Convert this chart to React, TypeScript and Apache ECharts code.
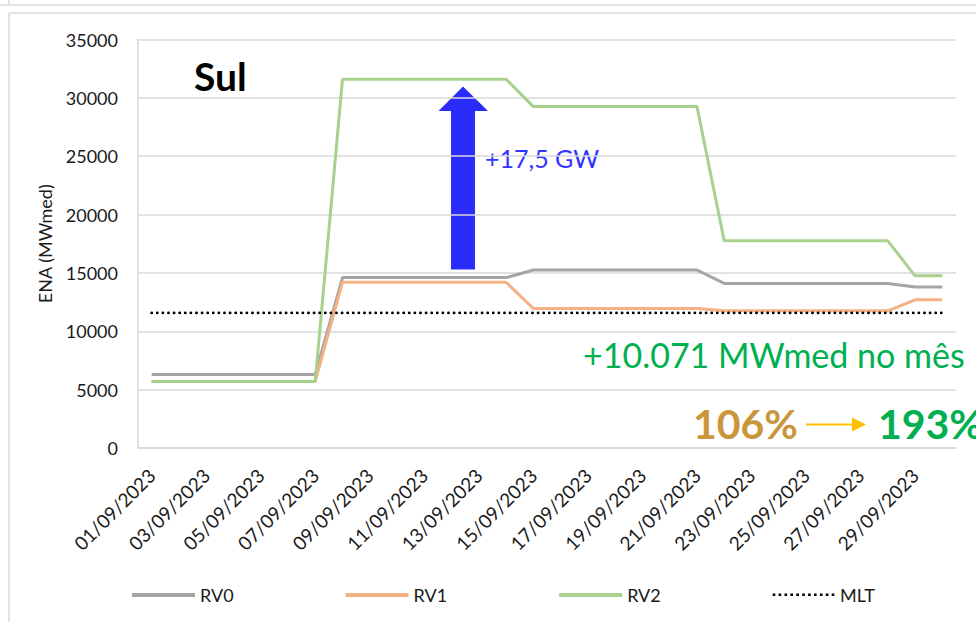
import React, { useEffect, useRef } from "react";
import * as echarts from "echarts";

const categories = [
  "01/09/2023", "02/09/2023", "03/09/2023", "04/09/2023", "05/09/2023",
  "06/09/2023", "07/09/2023", "08/09/2023", "09/09/2023", "10/09/2023",
  "11/09/2023", "12/09/2023", "13/09/2023", "14/09/2023", "15/09/2023",
  "16/09/2023", "17/09/2023", "18/09/2023", "19/09/2023", "20/09/2023",
  "21/09/2023", "22/09/2023", "23/09/2023", "24/09/2023", "25/09/2023",
  "26/09/2023", "27/09/2023", "28/09/2023", "29/09/2023", "30/09/2023",
];

const rv0 = [
  6300, 6300, 6300, 6300, 6300, 6300, 6300,
  14600, 14600, 14600, 14600, 14600, 14600, 14600,
  15250, 15250, 15250, 15250, 15250, 15250, 15250,
  14100, 14100, 14100, 14100, 14100, 14100, 14100,
  13800, 13800,
];
const rv1 = [
  5700, 5700, 5700, 5700, 5700, 5700, 5700,
  14200, 14200, 14200, 14200, 14200, 14200, 14200,
  11950, 11950, 11950, 11950, 11950, 11950, 11950,
  11750, 11750, 11750, 11750, 11750, 11750, 11750,
  12700, 12700,
];
const rv2 = [
  5700, 5700, 5700, 5700, 5700, 5700, 5700,
  31600, 31600, 31600, 31600, 31600, 31600, 31600,
  29250, 29250, 29250, 29250, 29250, 29250, 29250,
  17750, 17750, 17750, 17750, 17750, 17750, 17750,
  14750, 14750,
];
const mlt = [
  11570, 11570, 11570, 11570, 11570, 11570, 11570, 11570, 11570, 11570,
  11570, 11570, 11570, 11570, 11570, 11570, 11570, 11570, 11570, 11570,
  11570, 11570, 11570, 11570, 11570, 11570, 11570, 11570, 11570, 11570,
];

const seriesNames = ["RV0", "RV1", "RV2", "MLT"];
const FONT = "Lato, 'Open Sans', sans-serif";

const solidIcon = "path://M0,0H63V4H0Z";
const dottedIcon =
  "path://" +
  [0, 1, 2, 3, 4, 5, 6, 7, 8, 9, 10]
    .map((i) => {
      const x = i * 5.9;
      return `M${x},0.5h2.6v2.6h-2.6Z`;
    })
    .join(" ") +
  " M0,0H0.01V4H0Z M61.6,0H61.61V4H61.6Z";

export default function App() {
  const ref = useRef<HTMLDivElement>(null);

  useEffect(() => {
    if (!ref.current) return;
    const chart = echarts.init(ref.current, undefined, { renderer: "svg" });
    const frameColor = "#d9d9d9";
    chart.setOption({
      animation: false,
      backgroundColor: "#ffffff",
      textStyle: { fontFamily: FONT },
      grid: { left: 138, top: 39.5, right: 20, bottom: 174, containLabel: false },
      xAxis: {
        type: "category",
        data: categories,
        boundaryGap: true,
        axisLine: { show: true, lineStyle: { color: frameColor, width: 1.5 } },
        axisTick: { show: false },
        axisLabel: {
          interval: 1,
          rotate: 45,
          margin: 24,
          fontSize: 19,
          color: "#1a1a1a",
          fontFamily: FONT,
        },
        splitLine: { show: false },
      },
      yAxis: {
        type: "value",
        min: 0,
        max: 35000,
        interval: 5000,
        name: "ENA (MWmed)",
        nameLocation: "middle",
        nameGap: 84,
        nameRotate: 90,
        nameTextStyle: { fontSize: 18, color: "#1a1a1a", fontFamily: FONT },
        axisLine: { show: true, lineStyle: { color: frameColor, width: 1.5 } },
        axisTick: { show: false },
        axisLabel: {
          fontSize: 18,
          color: "#1a1a1a",
          margin: 20,
          fontFamily: FONT,
          formatter: (v: number) => String(v),
        },
        splitLine: { show: true, lineStyle: { color: frameColor, width: 1.5 } },
      },
      legend: {
        left: 127,
        top: 581,
        itemWidth: 63,
        itemHeight: 4,
        itemGap: 112,
        textStyle: { fontSize: 18, color: "#1a1a1a", fontFamily: FONT },
        data: [
          { name: "RV0", icon: solidIcon, itemStyle: { color: "#a5a5a5" } },
          { name: "RV1", icon: solidIcon, itemStyle: { color: "#f4b183" } },
          { name: "RV2", icon: solidIcon, itemStyle: { color: "#a9d18e" } },
          { name: "MLT", icon: dottedIcon, itemStyle: { color: "#000000" } },
        ],
      },
      series: [
        {
          name: seriesNames[0],
          type: "line",
          data: rv0,
          showSymbol: false,
          symbol: "none",
          lineStyle: { color: "#a5a5a5", width: 3 },
          itemStyle: { color: "#a5a5a5" },
        },
        {
          name: seriesNames[1],
          type: "line",
          data: rv1,
          showSymbol: false,
          symbol: "none",
          lineStyle: { color: "#f4b183", width: 3 },
          itemStyle: { color: "#f4b183" },
        },
        {
          name: seriesNames[2],
          type: "line",
          data: rv2,
          showSymbol: false,
          symbol: "none",
          lineStyle: { color: "#a9d18e", width: 3 },
          itemStyle: { color: "#a9d18e" },
        },
        {
          name: seriesNames[3],
          type: "line",
          data: mlt,
          showSymbol: false,
          symbol: "none",
          lineStyle: { color: "#000000", width: 2.8, type: [0.1, 5.5], cap: "round" },
          itemStyle: { color: "#000000" },
        },
      ],
      graphic: [
        { type: "line", shape: { x1: 0, y1: 5, x2: 976, y2: 5 }, style: { stroke: frameColor, lineWidth: 1.5 } },
        { type: "line", shape: { x1: 9, y1: 0, x2: 9, y2: 5 }, style: { stroke: frameColor, lineWidth: 1.5 } },
        { type: "line", shape: { x1: 9, y1: 13, x2: 976, y2: 13 }, style: { stroke: frameColor, lineWidth: 1.5 } },
        { type: "line", shape: { x1: 9, y1: 13, x2: 9, y2: 622 }, style: { stroke: frameColor, lineWidth: 1.5 } },
        {
          type: "text",
          x: 194,
          y: 76,
          style: { text: "Sul", font: `bold 39px ${FONT}`, fill: "#000000", verticalAlign: "middle" },
        },
        {
          type: "polygon",
          shape: {
            points: [
              [451, 269.5], [475, 269.5], [475, 111], [488, 111], [463, 86.5], [438.5, 111], [451, 111],
            ],
          },
          style: { fill: "#2b2bfa" },
        },
        {
          type: "text",
          x: 485,
          y: 157.5,
          style: { text: "+17,5 GW", font: `25px ${FONT}`, fill: "#3333ff", verticalAlign: "middle" },
        },
        {
          type: "text",
          x: 583,
          y: 354.5,
          style: { text: "+10.071 MWmed no mês", font: `34px ${FONT}`, fill: "#00b050", verticalAlign: "middle" },
        },
        {
          type: "text",
          x: 693,
          y: 423,
          style: { text: "106%", font: `bold 41px ${FONT}`, fill: "#c9963c", verticalAlign: "middle" },
        },
        { type: "line", shape: { x1: 806, y1: 424.5, x2: 853, y2: 424.5 }, style: { stroke: "#ffc000", lineWidth: 2 } },
        {
          type: "polygon",
          shape: { points: [[852, 417.5], [866, 424.5], [852, 431.5]] },
          style: { fill: "#ffc000" },
        },
        {
          type: "text",
          x: 878,
          y: 423,
          style: { text: "193%", font: `bold 41px ${FONT}`, fill: "#00b050", verticalAlign: "middle" },
        },
      ],
    });
    return () => chart.dispose();
  }, []);

  return (
    <div
      ref={ref}
      style={{ position: "absolute", left: 0, top: 0, width: 976, height: 622, background: "#fff" }}
    />
  );
}
